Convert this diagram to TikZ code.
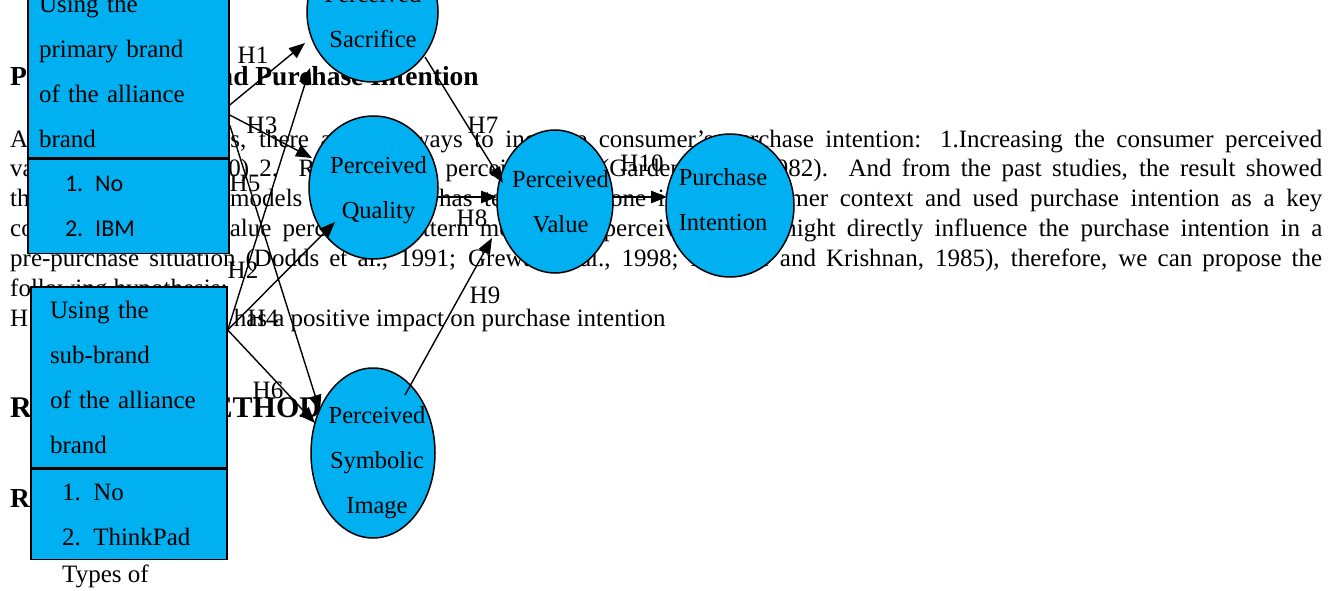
\documentclass[tikz,border=0pt]{standalone}
\usepackage{fontspec}
\setmainfont{Liberation Serif}
\newfontfamily\calibri{Carlito}
\usepackage{tikz}
\usetikzlibrary{shapes.geometric, arrows.meta, positioning, calc}
\definecolor{fillblue}{RGB}{0,176,240}
\tikzstyle{brandbox} = [rectangle, draw=black, line width=1.5pt, fill=fillblue, inner ysep=0pt, align=left, font=\fontsize{25}{45}\selectfont]
\tikzstyle{construct} = [ellipse, draw=black, line width=1.5pt, fill=fillblue, inner sep=0pt]
\tikzstyle{constext} = [align=center, inner sep=0pt, font=\fontsize{24.5}{45}\selectfont]
\tikzstyle{arrow} = [line width=1.4pt, -{Triangle[length=16pt,width=12.5pt]}]
\tikzstyle{hyp} = [inner sep=0pt, font=\fontsize{25}{30}\selectfont]
\tikzstyle{bodyline} = [anchor=base west, inner sep=0pt, font=\fontsize{25}{30}\selectfont]
\tikzstyle{subhead} = [anchor=base west, inner sep=0pt, font=\bfseries\fontsize{27.5}{33}\selectfont]
\tikzstyle{mainhead} = [anchor=base west, inner sep=0pt, font=\bfseries\fontsize{30}{36}\selectfont]

\begin{document}
\begin{tikzpicture}[x=1pt, y=-1pt]
\useasboundingbox (0,0) rectangle (1338,591);
\clip (0,0) rectangle (1338,591);
\fill[white] (0,0) rectangle (1338,591);

% Page text behind the figure
\node (valuehead) [subhead] at (10,86) {Perceived Value and Purchase Intention};
\node (para1) [bodyline] at (10,147) {\makebox[1312pt][s]{According to scholars, there are two ways to increase consumer's purchase intention: 1.Increasing the consumer perceived}};
\node (para2) [bodyline] at (10,176) {\makebox[1312pt][s]{value (Zeithaml, 2000) 2. Reducing the perceived risk (Garden et al., 1982). And from the past studies, the result showed}};
\node (para3) [bodyline] at (10,206) {\makebox[1312pt][s]{that the majority of models in the past has tested only one in the consumer context and used purchase intention as a key}};
\node (para4) [bodyline] at (10,236) {\makebox[1312pt][s]{consumers' overall value perception pattern means that perceived value might directly influence the purchase intention in a}};
\node (para5) [bodyline] at (10,266) {\makebox[1312pt][s]{pre-purchase situation (Dodds et al., 1991; Grewal et al., 1998; Monroe and Krishnan, 1985), therefore, we can propose the}};
\node (para6) [bodyline] at (10,296) {following hypothesis:};
\node (para7) [bodyline] at (10,326) {H10: Perceived value has a positive impact on purchase intention};
\node (methodhead) [mainhead] at (10,417) {RESEARCH METHOD};
\node (modelhead) [subhead] at (10,507) {Research Model};

% Brand boxes
\node (primaryup) [brandbox, text width=179pt, inner xsep=11pt, minimum height=174pt] at (128.5,71) {Using the\\primary brand\\of the alliance\\brand};
\node (primarylow) [brandbox, below=0pt of primaryup, text width=127pt, inner xsep=37pt, minimum height=94pt, font=\calibri\fontsize{24}{45}\selectfont] {1. No\\2. IBM};
\node (subup) [brandbox, text width=158pt, inner xsep=19pt, minimum height=181pt] at (129,377.5) {Using the\\sub-brand\\of the alliance\\brand};
\node (sublow) [brandbox, below=0pt of subup, text width=134pt, inner xsep=31pt, minimum height=90pt] {1. No\\2. ThinkPad};
\node (types) [bodyline] at (62,582) {Types of};

% Constructs
\node (sacrifice) [construct, minimum width=131pt, minimum height=140pt] at (372.5,12) {};
\node (quality) [construct, minimum width=129pt, minimum height=143pt] at (373.5,187.5) {};
\node (value) [construct, minimum width=116pt, minimum height=143pt] at (555,201.5) {};
\node (intention) [construct, minimum width=128pt, minimum height=143pt] at (730,205.5) {};
\node (symbolic) [construct, minimum width=124pt, minimum height=170pt] at (373,453) {};
\node (sacrificetxt) [constext] at ($(sacrifice)+(0.5,5)$) {Perceived\\Sacrifice};
\node (qualitytxt) [constext] at ($(quality)+(5,2.3)$) {Perceived\\Quality};
\node (valuetxt) [constext] at ($(value)+(5.5,0)$) {Perceived\\Value};
\node (intentiontxt) [constext] at ($(intention)+(-7,-6.3)$) {Purchase\\Intention};
\node (symbolictxt) [constext] at ($(symbolic)+(4,9.3)$) {Perceived\\Symbolic\\Image};

% Arrows
\draw [arrow] ($(primaryup.east)+(0,34)$) -- ($(sacrifice)+(-67.5,31)$);
\draw [arrow] ($(primaryup.east)+(0,44)$) -- ($(quality)+(-61.5,-29.5)$);
\draw [arrow] ($(primaryup.east)+(0,54)$) -- ($(symbolic)+(-53,-42)$);
\draw [arrow] ($(subup.east)+(0,-47.5)$) -- ($(sacrifice)+(-62.5,56)$);
\draw [arrow] ($(subup.east)+(0,-47.5)$) -- ($(quality)+(-38.5,34.5)$);
\draw [arrow] ($(subup.east)+(0,-47.5)$) -- ($(symbolic)+(-58,-30)$);
\draw [arrow] ($(sacrifice)+(52.5,45)$) -- ($(value)+(-52,-18.5)$);
\draw [arrow] ($(quality)+(64.5,9.5)$) -- ($(value)+(-58,-4.5)$);
\draw [arrow] ($(symbolic)+(32,-58)$) -- ($(value)+(-63,36.5)$);
\draw [arrow] ($(value)+(58,-4.5)$) -- ($(intention)+(-63,-8.5)$);

% Hypothesis labels
\node (h1) [hyp] at (253,55) {H1};
\node (h2) [hyp] at (243,270) {H2};
\node (h3) [hyp] at (262,125) {H3};
\node (h4) [hyp] at (263,318) {H4};
\node (h5) [hyp] at (245,183) {H5};
\node (h6) [hyp] at (268,390) {H6};
\node (h7) [hyp] at (483,125) {H7};
\node (h8) [hyp] at (472,218) {H8};
\node (h9) [hyp] at (485,295) {H9};
\node (h10) [hyp] at (642,163) {H10};
\end{tikzpicture}
\end{document}
